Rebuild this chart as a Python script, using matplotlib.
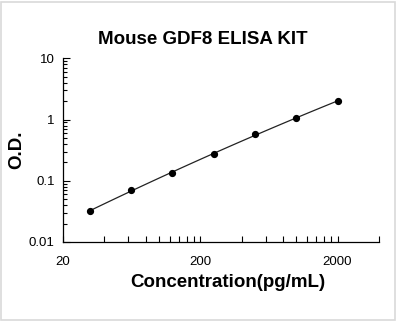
import numpy as np
import matplotlib
matplotlib.use('Agg')
import matplotlib.pyplot as plt
from matplotlib.ticker import FixedLocator, NullFormatter
from matplotlib.patches import Rectangle

plt.rcParams['font.family'] = ['Liberation Sans', 'DejaVu Sans']

# standard curve data
conc = [31.25, 62.5, 125, 250, 500, 1000, 2000]
od = [0.032, 0.070, 0.132, 0.277, 0.575, 1.06, 2.01]

x_major = [20, 200, 2000]
x_labels = ['20', '200', '2000']
y_major = [0.01, 0.1, 1, 10]
y_labels = ['0.01', '0.1', '1', '10']

fig = plt.figure(figsize=(3.98, 3.23), dpi=100)
ax = fig.add_axes([0.158, 0.251, 0.794, 0.568])

# fitted curve through the points (quadratic in log-log space)
lx, ly = np.log10(conc), np.log10(od)
coef = np.polyfit(lx, ly, 2)
xs = np.logspace(lx[0], lx[-1], 100)
ax.plot(xs, 10 ** np.polyval(coef, np.log10(xs)), color='#222222', lw=0.9)
ax.plot(conc, od, 'o', color='black', ms=4.2)

ax.set_xscale('log')
ax.set_yscale('log')
ax.set_xlim(20, 4000)
ax.set_ylim(0.01, 10)

ax.xaxis.set_major_locator(FixedLocator(x_major))
ax.set_xticklabels(x_labels)
minors = [b * k for b in (20, 200) for k in range(2, 10)] + [4000]
ax.xaxis.set_minor_locator(FixedLocator(minors))
ax.xaxis.set_minor_formatter(NullFormatter())
ax.yaxis.set_major_locator(FixedLocator(y_major))
ax.set_yticklabels(y_labels)
ax.yaxis.set_minor_formatter(NullFormatter())

ax.tick_params(axis='x', which='both', direction='in', length=4, width=0.8,
               labelsize=9.5, pad=10)
ax.tick_params(axis='y', which='major', direction='in', length=5, width=0.8,
               labelsize=9.5, pad=6)
ax.tick_params(axis='y', which='minor', direction='in', length=3, width=0.8)

for s in ['top', 'right']:
    ax.spines[s].set_visible(False)
for s in ['left', 'bottom']:
    ax.spines[s].set_linewidth(0.9)

fig.text(0.51, 0.879, 'Mouse GDF8 ELISA KIT', fontsize=13.5, fontweight='bold',
         ha='center', va='center')
fig.text(0.573, 0.124, 'Concentration(pg/mL)', fontsize=13.5, fontweight='bold',
         ha='center', va='center')
fig.text(0.042, 0.536, 'O.D.', fontsize=13.5, fontweight='bold', rotation=90,
         ha='center', va='center')

fig.patches.append(Rectangle((0.003, 0.008), 0.99, 0.985, transform=fig.transFigure,
                             fill=False, edgecolor='#d9d9d9', lw=1.2))

fig.savefig('out.png', dpi=100)
